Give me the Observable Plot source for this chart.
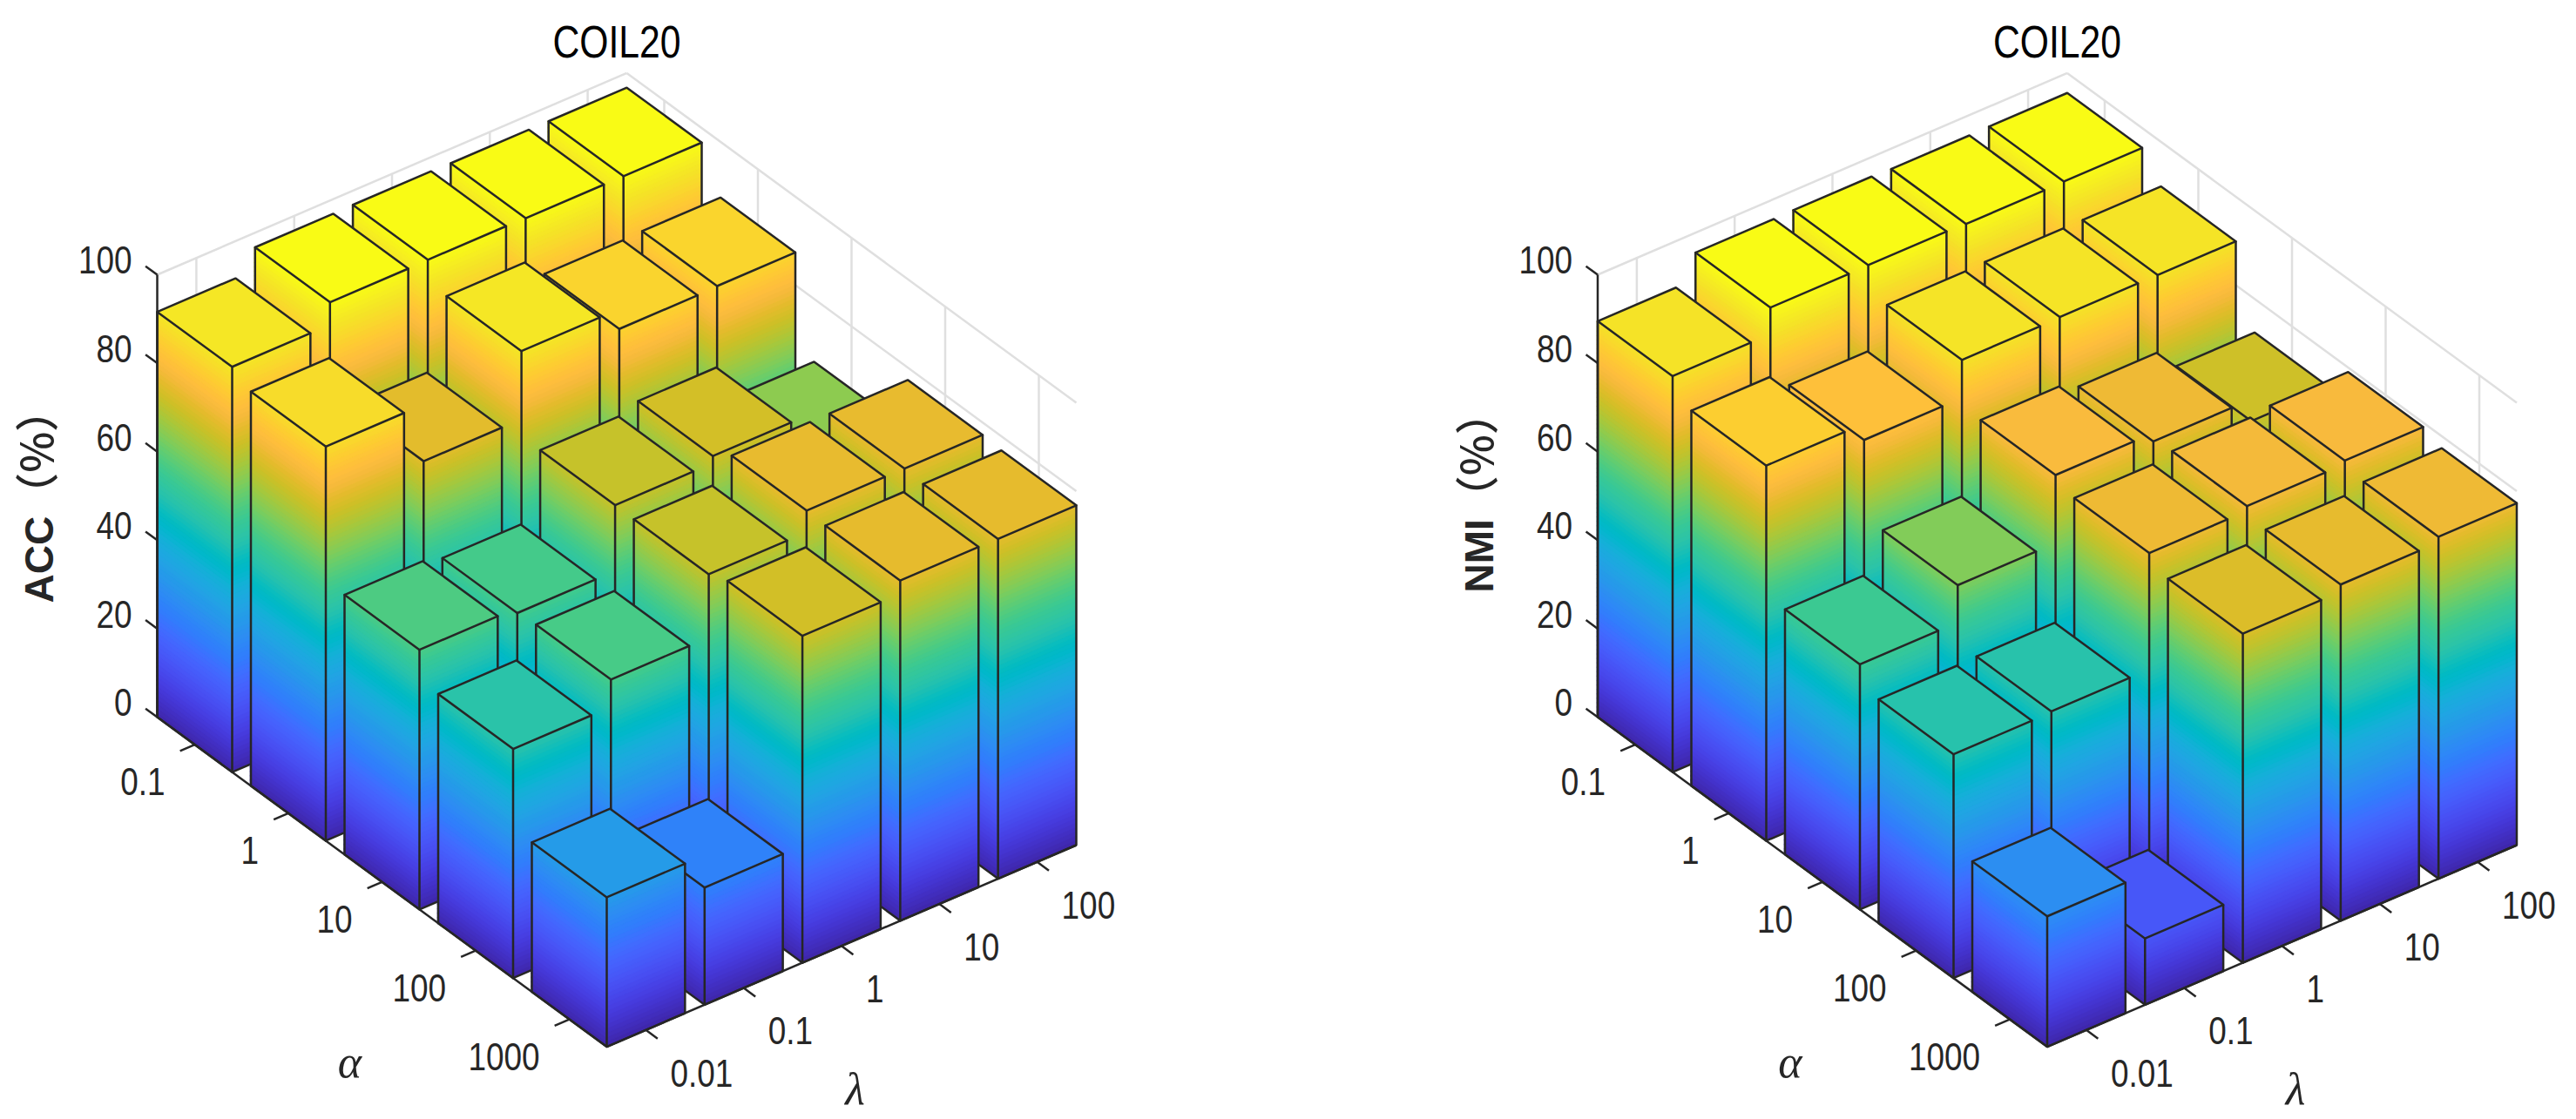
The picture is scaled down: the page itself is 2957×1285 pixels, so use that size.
<!DOCTYPE html>
<html>
<head>
<meta charset="utf-8">
<script src="https://cdn.jsdelivr.net/npm/d3@7"></script>
<script src="https://cdn.jsdelivr.net/npm/@observablehq/plot@0.6"></script>
<style>
html,body{margin:0;padding:0;background:#fff;}
svg{display:block;}
text{text-spacing-trim:space-all;}
</style>
</head>
<body>
<div id="chart"></div>
<script>
// ---------- data ----------
const alphaLabels = ["0.1", "1", "10", "100", "1000"];
const lambdaLabels = ["0.01", "0.1", "1", "10", "100"];
const zTicks = [0, 20, 40, 60, 80, 100];
// rows: alpha, columns: lambda
const acc = [
  [91.6, 96.7, 96.8, 96.7, 96.7],
  [89.1, 76.3, 91.7, 87.2, 87.4],
  [58.7, 57.5, 72.4, 74.0, 65.8],
  [51.8, 58.0, 72.3, 77.2, 77.2],
  [33.8, 26.5, 73.9, 76.9, 76.8]
];
const nmi = [
  [89.5, 95.5, 95.6, 95.4, 95.5],
  [84.8, 81.1, 89.7, 89.9, 89.9],
  [55.4, 63.8, 79.2, 77.3, 72.4],
  [50.6, 50.8, 77.1, 78.2, 79.0],
  [29.5, 15.0, 74.4, 76.0, 77.3]
];
const parula = [[0.2422,0.1504,0.6603],[0.2504,0.1650,0.7076],[0.2578,0.1818,0.7511],[0.2647,0.1978,0.7952],[0.2706,0.2147,0.8364],[0.2751,0.2342,0.8710],[0.2783,0.2559,0.8991],[0.2803,0.2782,0.9221],[0.2813,0.3006,0.9414],[0.2810,0.3228,0.9579],[0.2795,0.3447,0.9717],[0.2760,0.3667,0.9829],[0.2699,0.3892,0.9906],[0.2602,0.4123,0.9952],[0.2440,0.4358,0.9988],[0.2206,0.4603,0.9973],[0.1963,0.4847,0.9892],[0.1834,0.5074,0.9798],[0.1786,0.5289,0.9682],[0.1764,0.5499,0.9520],[0.1687,0.5703,0.9359],[0.1540,0.5902,0.9218],[0.1460,0.6091,0.9079],[0.1380,0.6276,0.8973],[0.1248,0.6459,0.8883],[0.1113,0.6635,0.8763],[0.0952,0.6798,0.8598],[0.0689,0.6948,0.8394],[0.0297,0.7082,0.8163],[0.0036,0.7203,0.7917],[0.0067,0.7312,0.7660],[0.0433,0.7411,0.7394],[0.0964,0.7500,0.7120],[0.1408,0.7584,0.6842],[0.1717,0.7670,0.6554],[0.1938,0.7758,0.6251],[0.2161,0.7843,0.5923],[0.2470,0.7918,0.5567],[0.2906,0.7973,0.5188],[0.3406,0.8008,0.4789],[0.3909,0.8029,0.4354],[0.4456,0.8024,0.3909],[0.5044,0.7993,0.3480],[0.5616,0.7942,0.3045],[0.6174,0.7876,0.2612],[0.6720,0.7793,0.2227],[0.7242,0.7698,0.1910],[0.7738,0.7598,0.1646],[0.8203,0.7498,0.1535],[0.8634,0.7406,0.1596],[0.9035,0.7330,0.1774],[0.9393,0.7288,0.2100],[0.9728,0.7298,0.2394],[0.9956,0.7434,0.2371],[0.9970,0.7659,0.2199],[0.9952,0.7893,0.2028],[0.9892,0.8136,0.1885],[0.9786,0.8386,0.1766],[0.9676,0.8639,0.1643],[0.9610,0.8890,0.1537],[0.9597,0.9135,0.1423],[0.9628,0.9373,0.1265],[0.9691,0.9606,0.1064],[0.9769,0.9839,0.0805]];

// ---------- 3D projection (camera of the original view) ----------
const W = 2957, H = 1285;
const INK = "#262626", GRID = "#dfdfdf";
const LOW = 0.6, HIGH = 5.4, SPAN = HIGH - LOW, HALF = 0.4, Z_UNIT = 5.08;
const VIEW_A = [516, 378.6];   // screen vector of the whole alpha axis
const VIEW_L = [539, -231.6];  // screen vector of the whole lambda axis
const FONT = "'Liberation Sans',sans-serif";
const SQUEEZE = 0.82;          // the original's tick font is condensed

function projector(ox, oy) {
  return (a, l, z) => ({
    x: ox + (a - LOW) / SPAN * VIEW_A[0] + (l - LOW) / SPAN * VIEW_L[0],
    y: oy + (a - LOW) / SPAN * VIEW_A[1] + (l - LOW) / SPAN * VIEW_L[1] - z * Z_UNIT
  });
}

function faceStrips(P, p0, p1, h, zMax, prefix) {
  const rows = [];
  const levels = d3.range(0, h, 1);
  levels.forEach((z0, k) => {
    const z1 = Math.min(h, z0 + 1.25);
    const c = Math.min(1, ((z0 + Math.min(h, z0 + 1)) / 2) / zMax);
    for (const p of [p0, p1]) {
      const b = P(p[0], p[1], z0), t = P(p[0], p[1], z1);
      rows.push({id: prefix + "-" + k, x1: b.x, y1: b.y, x2: t.x, y2: t.y, c});
    }
  });
  return rows;
}

function barMarks(P, a, l, h, zMax) {
  const a0 = a - HALF, a1 = a + HALF, l0 = l - HALF, l1 = l + HALF;
  const left = [a0, l0], front = [a1, l0], right = [a1, l1], back = [a0, l1];
  const strips = [
    ...faceStrips(P, left, front, h, zMax, "L"),
    ...faceStrips(P, front, right, h, zMax, "R")
  ];
  const at = (p, z) => P(p[0], p[1], z);
  const topRows = [
    {x1: at(left, h).x, y1: at(left, h).y, x2: at(back, h).x, y2: at(back, h).y, c: h / zMax},
    {x1: at(front, h).x, y1: at(front, h).y, x2: at(right, h).x, y2: at(right, h).y, c: h / zMax}
  ];
  const edgeRows = [
    [at(left, 0), at(front, 0), at(right, 0), at(right, h), at(back, h), at(left, h), at(left, 0)],
    [at(front, 0), at(front, h), at(left, h)],
    [at(front, h), at(right, h)]
  ].flatMap((pts, i) => pts.map(p => ({...p, id: i})));
  const area = {x1: "x1", y1: "y1", x2: "x2", y2: "y2", fill: "c"};
  return [
    Plot.area(strips, {...area, z: "id", stroke: "c", strokeWidth: 0.6}),
    Plot.area(topRows, {...area}),
    Plot.line(edgeRows, {x: "x", y: "y", z: "id", stroke: INK, strokeWidth: 2.5, strokeLinejoin: "miter"})
  ];
}

function panelMarks(values, ox, oy, title, zLabel, zLabelY) {
  const P = projector(ox, oy);
  const zMax = d3.max(values.flat());
  const positions = d3.range(1, alphaLabels.length + 1);
  const seg = (p, q) => ({x1: p.x, y1: p.y, x2: q.x, y2: q.y});

  const gridSegs = [
    ...positions.map(l => seg(P(LOW, l, 0), P(LOW, l, 100))),
    ...positions.map(a => seg(P(a, HIGH, 0), P(a, HIGH, 100))),
    ...positions.map(l => seg(P(LOW, l, 0), P(HIGH, l, 0))),
    ...positions.map(a => seg(P(a, LOW, 0), P(a, HIGH, 0))),
    ...zTicks.map(z => seg(P(LOW, LOW, z), P(LOW, HIGH, z))),
    ...zTicks.map(z => seg(P(LOW, HIGH, z), P(HIGH, HIGH, z)))
  ];
  const axisSegs = [
    seg(P(LOW, LOW, 0), P(LOW, LOW, 100)),
    seg(P(LOW, LOW, 0), P(HIGH, LOW, 0)),
    seg(P(HIGH, LOW, 0), P(HIGH, HIGH, 0)),
    ...zTicks.map(z => seg(P(LOW, LOW, z), P(LOW - 0.125, LOW, z))),
    ...positions.map(a => seg(P(a, LOW, 0), P(a, LOW - 0.15, 0))),
    ...positions.map(l => seg(P(HIGH, l, 0), P(HIGH + 0.125, l, 0)))
  ];
  const link = {x1: "x1", y1: "y1", x2: "x2", y2: "y2"};

  const marks = [Plot.link(gridSegs, {...link, stroke: GRID, strokeWidth: 2.5})];
  // painter's order: far bars first
  for (let j = lambdaLabels.length - 1; j >= 0; j--) {
    for (let i = 0; i < alphaLabels.length; i++) {
      marks.push(...barMarks(P, i + 1, j + 1, values[i][j], zMax));
    }
  }
  marks.push(Plot.link(axisSegs, {...link, stroke: INK, strokeWidth: 2.5}));

  const tick = {fill: INK, fontFamily: FONT, fontSize: 45, className: "narrow"};
  const zRows = zTicks.map(z => ({t: String(z), ...P(LOW, LOW, z)}));
  const aRows = positions.map((a, i) => ({t: alphaLabels[i], ...P(a, LOW, 0)}));
  const lRows = positions.map((l, i) => ({t: lambdaLabels[i], ...P(HIGH, l, 0)}));
  marks.push(
    Plot.text(zRows, {...tick, x: "x", y: "y", text: "t", textAnchor: "end", dx: -29, dy: -15.5}),
    Plot.text(aRows, {...tick, x: "x", y: "y", text: "t", textAnchor: "end", dx: -34, dy: 44}),
    Plot.text(lRows, {...tick, x: "x", y: "y", text: "t", textAnchor: "start", dx: 28, dy: 50.5}),
    Plot.text([title], {x: () => ox + 527.5, y: () => 49, text: d => d, fill: "#000", fontFamily: FONT, fontSize: 52, className: "narrow"}),
    Plot.text(["α"], {x: () => ox + 221, y: () => oy + 397, text: d => d, fill: INK, fontFamily: "'Liberation Serif',serif", fontStyle: "italic", fontSize: 52}),
    Plot.text(["λ"], {x: () => ox + 801, y: () => oy + 428, text: d => d, fill: INK, fontFamily: "'Liberation Serif',serif", fontStyle: "italic", fontSize: 52}),
    Plot.text([zLabel], {x: () => ox - 134.5, y: () => zLabelY, text: d => d, rotate: -90, textAnchor: "start", fill: INK, fontFamily: "'Liberation Sans','Noto Sans CJK SC',sans-serif", fontWeight: "bold", fontSize: 46, className: "zlabel"})
  );
  return marks;
}

const chart = Plot.plot({
  width: W, height: H,
  marginTop: 0, marginRight: 0, marginBottom: 0, marginLeft: 0,
  style: {background: "#fff"},
  x: {domain: [0, W], range: [0, W], axis: null},
  y: {domain: [0, H], range: [0, H], axis: null},
  color: {
    type: "linear",
    domain: parula.map((_, i) => i / (parula.length - 1)),
    range: parula.map(c => d3.rgb(c[0] * 255, c[1] * 255, c[2] * 255).formatHex()),
    interpolate: "rgb"
  },
  marks: [
    ...panelMarks(acc, 180, 823, "COIL20", "ACC（%）", 692),
    ...panelMarks(nmi, 1833.5, 823, "COIL20", "NMI（%）", 680)
  ]
});
document.getElementById("chart").appendChild(chart);

// the condensed look of the original's font, once the text can be measured
d3.select(chart).selectAll(".narrow text").each(function () {
  this.setAttribute("textLength", this.getComputedTextLength() * SQUEEZE);
  this.setAttribute("lengthAdjust", "spacingAndGlyphs");
});
// the bracketed unit is set lighter than the bold name, in the CJK face
d3.select(chart).selectAll(".zlabel text").each(function () {
  const s = this.textContent, k = s.indexOf("（");
  this.textContent = s.slice(0, k);
  d3.select(this).append("tspan")
    .attr("font-family", "'Noto Sans CJK SC',sans-serif")
    .attr("font-weight", "500")
    .attr("font-size", "50")
    .text(s.slice(k));
});
</script>
</body>
</html>
